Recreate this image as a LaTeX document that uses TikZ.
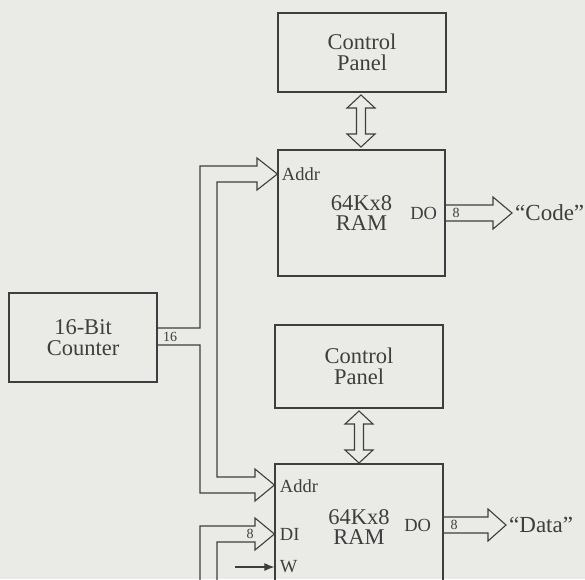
\documentclass[tikz,border=0pt]{standalone}
\usepackage{fontspec}
\setmainfont{Liberation Serif}
\usetikzlibrary{arrows.meta}
\definecolor{ink}{RGB}{62,62,62}
\definecolor{paper}{RGB}{234,234,230}

\begin{document}
\begin{tikzpicture}[x=1pt,y=1pt,yscale=-1,xscale=1,
    unitbox/.style={draw=ink, line width=1.2pt, inner sep=0pt, align=center, text=ink, font=\fontsize{22.5}{20.5}\selectfont},
    bus/.style={draw=ink, line width=1.1pt, line join=miter},
    port/.style={text=ink, inner sep=0.75pt, font=\fontsize{18.5}{18.5}\selectfont},
    buslbl/.style={text=ink, inner sep=0.75pt, font=\fontsize{14}{14}\selectfont},
    outlbl/.style={text=ink, anchor=west, inner sep=3pt, font=\fontsize{23}{23}\selectfont}]

                %Page
                \fill [paper] (0,0) rectangle (585,579) ;
                \useasboundingbox (0,0) rectangle (585,579) ;
                \clip (0,0) rectangle (585,579) ;

                %Shape: Rectangle
                \node [unitbox, minimum width=168pt, minimum height=79pt] (panelA) at (362,52.5) {Control\\Panel};
                %Shape: Rectangle
                \node [unitbox, minimum width=167pt, minimum height=126pt] (ramA) at (361.5,213) {64Kx8\\RAM};
                %Shape: Rectangle
                \node [unitbox, minimum width=168pt, minimum height=83pt] (panelB) at (359,366.5) {Control\\Panel};
                %Shape: Rectangle
                \node [unitbox, minimum width=168pt, minimum height=126pt] (ramB) at (359,527) {64Kx8\\RAM};
                %Shape: Rectangle
                \node [unitbox, minimum width=148pt, minimum height=89pt] (counter) at (83,337.5) {16-Bit\\Counter};

                % Text Node
                \node [port, anchor=west] (addrA) at (281,174) {Addr};
                % Text Node
                \node [port, anchor=east] (doA) at (438,213) {DO};
                % Text Node
                \node [port, anchor=west] (addrB) at (279,486) {Addr};
                % Text Node
                \node [port, anchor=west] (diB) at (279,534) {DI};
                % Text Node
                \node [port, anchor=west] (wB) at (279,567) {W};
                % Text Node
                \node [port, anchor=east] (doB) at (432,525) {DO};
                % Text Node
                \node [outlbl] (code) at (512,213) {“Code”};
                % Text Node
                \node [outlbl] (data) at (506,525) {“Data”};

                %Straight Lines
                \draw [bus] (counter.east |- 0,328) -- (200,328) -- (200,166) -- (257,166) -- (257,158) -- (ramA.west |- 0,174) -- (257,190) -- (257,182) -- (217,182) -- (217,477) -- (255,477) -- (255,469) -- (ramB.west |- 0,485) -- (255,501) -- (255,493) -- (200,493) -- (200,345) -- (counter.east |- 0,345) ;
                %Straight Lines
                \draw [bus] (200,590) -- (200,526) -- (255,526) -- (255,518) -- (ramB.west |- diB) -- (255,550) -- (255,542) -- (217,542) -- (217,590) ;
                %Straight Lines
                \draw [bus] (ramA.east |- 0,205) -- (493,205) -- (493,197) -- (code.west) -- (493,229) -- (493,221) -- (ramA.east |- 0,221) ;
                %Straight Lines
                \draw [bus] (ramB.east |- 0,517) -- (488,517) -- (488,509) -- (data.west) -- (488,541) -- (488,533) -- (ramB.east |- 0,533) ;
                %Shape: Double Arrow
                \draw [bus] (361,95) -- (375,108) -- (365.5,108) -- (365.5,134) -- (375,134) -- (361,147) -- (347,134) -- (356.5,134) -- (356.5,108) -- (347,108) -- cycle ;
                %Shape: Double Arrow
                \draw [bus] (359,411) -- (373,424) -- (363.5,424) -- (363.5,450) -- (373,450) -- (359,463) -- (345,450) -- (354.5,450) -- (354.5,424) -- (345,424) -- cycle ;
                %Straight Lines
                \draw [ink, line width=1.1pt, -{Latex[length=10pt,width=8pt]}] (235,567) -- (ramB.west |- wB) ;

                % Text Node
                \node [buslbl] (wideC) at (170,337) {16};
                % Text Node
                \node [buslbl] (wideA) at (456,213) {8};
                % Text Node
                \node [buslbl] (wideI) at (250,534) {8};
                % Text Node
                \node [buslbl] (wideB) at (454,525) {8};
\end{tikzpicture}
\end{document}
